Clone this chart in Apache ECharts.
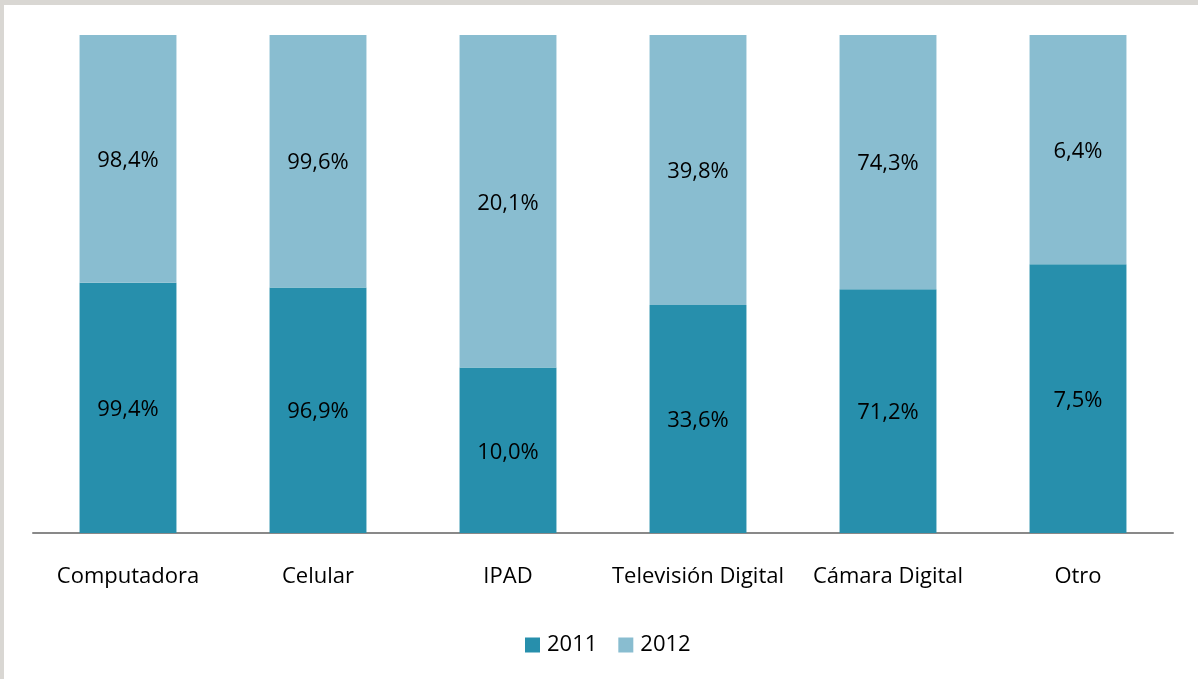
<!DOCTYPE html>
<html>
<head>
<meta charset="utf-8">
<script src="https://cdn.jsdelivr.net/npm/echarts@6/dist/echarts.min.js"></script>
<style>
  html, body { margin: 0; padding: 0; width: 1198px; height: 679px; overflow: hidden; background: #d9d7d3; }
  #frame { position: absolute; left: 4px; top: 5px; width: 1194px; height: 674px; background: #ffffff; }
  #chart { width: 100%; height: 100%; }
</style>
</head>
<body>
<div id="frame"><div id="chart"></div></div>
<script>
// Device ownership by year
const categories = ['Computadora', 'Celular', 'IPAD', 'Televisión Digital', 'Cámara Digital', 'Otro'];
const values2011 = [99.4, 96.9, 10.0, 33.6, 71.2, 7.5];
const values2012 = [98.4, 99.6, 20.1, 39.8, 74.3, 6.4];

const fmt = v => v.toFixed(1).replace('.', ',') + '%';

// Each column is drawn as a 100% stack: a segment's height is its share of the column total.
function shares(own, other) {
  return own.map((v, i) => ({ value: v / (v + other[i]) * 100, raw: v }));
}

const FONT = 'Open Sans';
const chart = echarts.init(document.getElementById('chart'));
const labelStyle = {
  show: true,
  position: 'inside',
  offset: [0, 2],
  color: '#000',
  fontSize: 22,
  fontFamily: FONT,
  formatter: p => fmt(p.data.raw)
};

chart.setOption({
  animation: false,
  grid: { left: 29, right: 25, top: 30, bottom: 146 },
  legend: {
    bottom: 18,
    left: 516,
    itemWidth: 15,
    itemHeight: 15,
    itemGap: 21,
    icon: 'rect',
    textStyle: { fontSize: 22, fontFamily: FONT, color: '#000', padding: [0, 0, 0, 2] },
    data: ['2011', '2012']
  },
  xAxis: {
    type: 'category',
    data: categories,
    axisLine: { lineStyle: { color: '#898989', width: 2 } },
    axisTick: { show: false },
    axisLabel: { color: '#000', fontSize: 22, fontFamily: FONT, margin: 33, interval: 0 }
  },
  yAxis: { type: 'value', min: 0, max: 100, show: false, splitLine: { show: false } },
  series: [
    {
      name: '2011', type: 'bar', stack: 'total', barWidth: '51%',
      itemStyle: { color: '#278FAC' },
      label: labelStyle,
      data: shares(values2011, values2012)
    },
    {
      name: '2012', type: 'bar', stack: 'total', barWidth: '51%',
      itemStyle: { color: '#89BDD0' },
      label: labelStyle,
      data: shares(values2012, values2011)
    }
  ]
});
</script>
</body>
</html>
